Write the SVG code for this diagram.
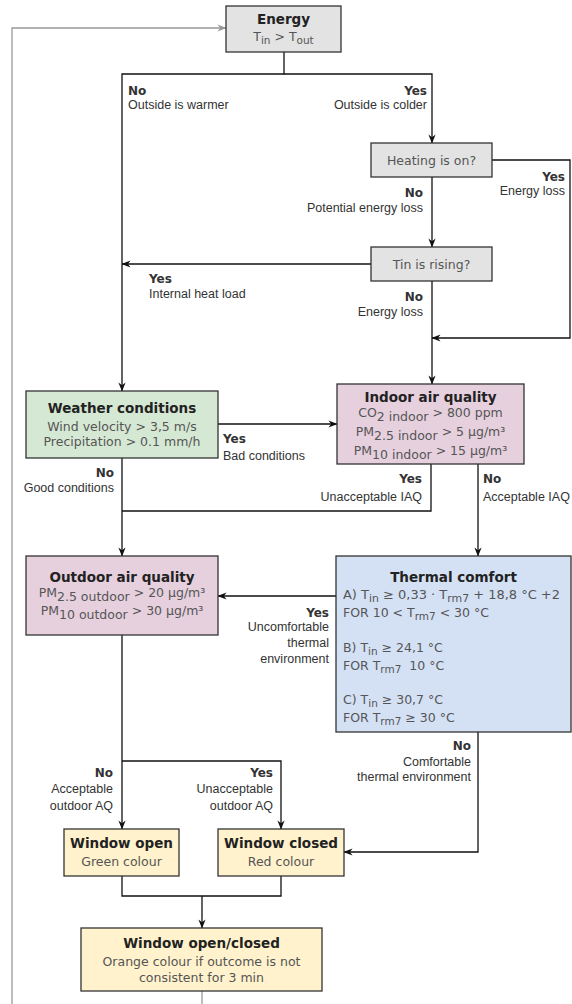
<svg xmlns="http://www.w3.org/2000/svg" width="572" height="1004" viewBox="0 0 572 1004">
  <defs>
    <marker id="arrow" viewBox="0 0 10 10" refX="9.5" refY="5" markerWidth="9" markerHeight="9" markerUnits="userSpaceOnUse" orient="auto">
      <path d="M0,1 L10,5 L0,9 L3,5 z" fill="#111"/>
    </marker>
    <marker id="arrow-grey" viewBox="0 0 10 10" refX="9.5" refY="5" markerWidth="9" markerHeight="9" markerUnits="userSpaceOnUse" orient="auto">
      <path d="M0,1 L10,5 L0,9 L3,5 z" fill="#999"/>
    </marker>
  </defs>
  <style>
    .box{stroke:#333;stroke-width:1.3}
    .grey{fill:#e3e3e3}
    .green{fill:#d5e8d4}
    .pink{fill:#e6d0de}
    .blue{fill:#d4e1f5}
    .yellow{fill:#fff2cc}
    .t{font-family:"DejaVu Sans",Verdana,sans-serif;text-anchor:middle}
    .title{font-size:13.5px;font-weight:bold;fill:#222}
    .body{font-size:12.5px;fill:#555}
    .left{text-anchor:start}
    .lbl{font-family:"Liberation Sans",Arial,sans-serif;font-size:12.5px;fill:#333}
    .yn{font-family:"DejaVu Sans",Verdana,sans-serif;font-size:12px;font-weight:bold;fill:#333}
    .r{text-anchor:end}
    .edge{fill:none;stroke:#111;stroke-width:1.3}
    .loop{fill:none;stroke:#999;stroke-width:1.3}
    .sub{font-size:10.5px}
  </style>

  <!-- connectors -->
  <g id="connectors">
    <path class="loop" d="M202,991 V1012 H12 V28 H226" marker-end="url(#arrow-grey)"/>
    <path class="edge" d="M284,52 V74 H122 V391" marker-end="url(#arrow)"/>
    <path class="edge" d="M284,74 H432 V143" marker-end="url(#arrow)"/>
    <path class="edge" d="M492,160 H570 V338 H432" marker-end="url(#arrow)"/>
    <path class="edge" d="M432,177 V247" marker-end="url(#arrow)"/>
    <path class="edge" d="M371,264 H122" marker-end="url(#arrow)"/>
    <path class="edge" d="M432,281 V384" marker-end="url(#arrow)"/>
    <path class="edge" d="M218,424 H337" marker-end="url(#arrow)"/>
    <path class="edge" d="M122,458 V556" marker-end="url(#arrow)"/>
    <path class="edge" d="M431,464 V511 H122"/>
    <path class="edge" d="M478,464 V556" marker-end="url(#arrow)"/>
    <path class="edge" d="M336,596 H218" marker-end="url(#arrow)"/>
    <path class="edge" d="M478,732 V852 H344" marker-end="url(#arrow)"/>
    <path class="edge" d="M122,635 V829" marker-end="url(#arrow)"/>
    <path class="edge" d="M122,761 H281 V829" marker-end="url(#arrow)"/>
    <path class="edge" d="M122,876 V896 H281 V876"/>
    <path class="edge" d="M202,896 V928" marker-end="url(#arrow)"/>
  </g>

  <!-- connector labels -->
  <g id="labels">
    <text class="yn" x="128" y="95">No</text>
    <text class="lbl" x="128" y="109">Outside is warmer</text>
    <text class="yn r" x="427" y="95">Yes</text>
    <text class="lbl r" x="427" y="109">Outside is colder</text>

    <text class="yn r" x="565" y="181">Yes</text>
    <text class="lbl r" x="565" y="195">Energy loss</text>
    <text class="yn r" x="423" y="197">No</text>
    <text class="lbl r" x="423" y="212">Potential energy loss</text>

    <text class="yn" x="149" y="283">Yes</text>
    <text class="lbl" x="149" y="298">Internal heat load</text>
    <text class="yn r" x="423" y="301">No</text>
    <text class="lbl r" x="423" y="316">Energy loss</text>

    <text class="yn" x="223" y="443">Yes</text>
    <text class="lbl" x="223" y="460">Bad conditions</text>
    <text class="yn r" x="114" y="477">No</text>
    <text class="lbl r" x="114" y="492">Good conditions</text>

    <text class="yn r" x="422" y="483">Yes</text>
    <text class="lbl r" x="422" y="501">Unacceptable IAQ</text>
    <text class="yn" x="483" y="483">No</text>
    <text class="lbl" x="483" y="501">Acceptable IAQ</text>

    <text class="yn r" x="329" y="617">Yes</text>
    <text class="lbl r" x="329" y="631">Uncomfortable</text>
    <text class="lbl r" x="329" y="647">thermal</text>
    <text class="lbl r" x="329" y="663">environment</text>

    <text class="yn r" x="471" y="750">No</text>
    <text class="lbl r" x="471" y="766">Comfortable</text>
    <text class="lbl r" x="471" y="781">thermal environment</text>

    <text class="yn r" x="113" y="777">No</text>
    <text class="lbl r" x="113" y="793">Acceptable</text>
    <text class="lbl r" x="113" y="810">outdoor AQ</text>
    <text class="yn r" x="273" y="777">Yes</text>
    <text class="lbl r" x="273" y="793">Unacceptable</text>
    <text class="lbl r" x="273" y="810">outdoor AQ</text>
  </g>

  <!-- nodes -->
  <g id="energy">
    <rect class="box grey" x="226" y="6" width="115" height="46"/>
    <text class="t title" x="283.5" y="24">Energy</text>
    <text class="t body" x="283.5" y="41">T<tspan class="sub" dy="3">in</tspan><tspan dy="-3"> &gt; T</tspan><tspan class="sub" dy="3">out</tspan></text>
  </g>

  <g id="heating">
    <rect class="box grey" x="371" y="143" width="121" height="34"/>
    <text class="t body" x="431.5" y="164.5">Heating is on?</text>
  </g>

  <g id="tin-rising">
    <rect class="box grey" x="371" y="247" width="121" height="34"/>
    <text class="t body" x="431.5" y="268.5">Tin is rising?</text>
  </g>

  <g id="weather">
    <rect class="box green" x="26" y="391" width="192" height="67"/>
    <text class="t title" x="122" y="413">Weather conditions</text>
    <text class="t body" x="122" y="431">Wind velocity &gt; 3,5 m/s</text>
    <text class="t body" x="122" y="446">Precipitation &gt; 0.1 mm/h</text>
  </g>

  <g id="indoor-aq">
    <rect class="box pink" x="337" y="384" width="187" height="80"/>
    <text class="t title" x="430.5" y="402">Indoor air quality</text>
    <text class="t body" x="430.5" y="417">CO<tspan dy="4">2 indoor</tspan><tspan dy="-4"> &gt; 800 ppm</tspan></text>
    <text class="t body" x="430.5" y="436">PM<tspan dy="4">2.5 indoor</tspan><tspan dy="-4"> &gt; 5 μg/m³</tspan></text>
    <text class="t body" x="430.5" y="455">PM<tspan dy="4">10 indoor</tspan><tspan dy="-4"> &gt; 15 μg/m³</tspan></text>
  </g>

  <g id="outdoor-aq">
    <rect class="box pink" x="26" y="556" width="192" height="79"/>
    <text class="t title" x="122" y="582">Outdoor air quality</text>
    <text class="t body" x="122" y="597">PM<tspan dy="4">2.5 outdoor</tspan><tspan dy="-4"> &gt; 20 μg/m³</tspan></text>
    <text class="t body" x="122" y="615">PM<tspan dy="4">10 outdoor</tspan><tspan dy="-4"> &gt; 30 μg/m³</tspan></text>
  </g>

  <g id="thermal-comfort">
    <rect class="box blue" x="336" y="556" width="235" height="176"/>
    <text class="t title" x="453.5" y="582">Thermal comfort</text>
    <text class="t body left" x="343" y="599" textLength="217" lengthAdjust="spacingAndGlyphs">A) T<tspan class="sub" dy="3">in</tspan><tspan dy="-3"> ≥ 0,33 · T</tspan><tspan class="sub" dy="3">rm7</tspan><tspan dy="-3"> + 18,8 °C +2</tspan></text>
    <text class="t body left" x="343" y="617">FOR 10 &lt; T<tspan class="sub" dy="3">rm7</tspan><tspan dy="-3"> &lt; 30 °C</tspan></text>
    <text class="t body left" x="343" y="652">B) T<tspan class="sub" dy="3">in</tspan><tspan dy="-3"> ≥ 24,1 °C</tspan></text>
    <text class="t body left" x="343" y="670" style="white-space:pre">FOR T<tspan class="sub" dy="3">rm7</tspan><tspan dy="-3">  10 °C</tspan></text>
    <text class="t body left" x="343" y="704">C) T<tspan class="sub" dy="3">in</tspan><tspan dy="-3"> ≥ 30,7 °C</tspan></text>
    <text class="t body left" x="343" y="722">FOR T<tspan class="sub" dy="3">rm7</tspan><tspan dy="-3"> ≥ 30 °C</tspan></text>
  </g>

  <g id="window-open">
    <rect class="box yellow" x="64" y="829" width="115" height="47"/>
    <text class="t title" x="121.5" y="848">Window open</text>
    <text class="t body" x="121.5" y="866">Green colour</text>
  </g>

  <g id="window-closed">
    <rect class="box yellow" x="218" y="829" width="126" height="47"/>
    <text class="t title" x="281" y="848">Window closed</text>
    <text class="t body" x="281" y="866">Red colour</text>
  </g>

  <g id="window-open-closed">
    <rect class="box yellow" x="81" y="928" width="241" height="63"/>
    <text class="t title" x="201.5" y="948">Window open/closed</text>
    <text class="t body" x="201.5" y="966">Orange colour if outcome is not</text>
    <text class="t body" x="201.5" y="982">consistent for 3 min</text>
  </g>
</svg>
